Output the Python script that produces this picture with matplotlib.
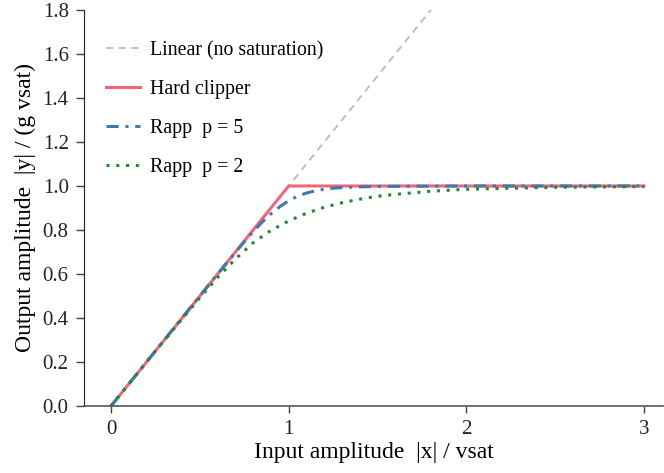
import numpy as np
import matplotlib.pyplot as plt

# values
x_lin = [0.0, 3.0]
y_lin = [0.0, 3.0]

x_hard = [0.0, 1.0, 3.0]
y_hard = [0.0, 1.0, 1.0]

x_rapp5 = [0.0, 0.25, 0.5, 0.6, 0.7, 0.75, 0.8, 0.85, 0.9, 0.95, 1.0, 1.05, 1.1, 1.15, 1.2, 1.25, 1.3, 1.4, 1.5, 1.75, 2.0, 2.5, 3.0]
y_rapp5 = [0.0, 0.25, 0.5, 0.6, 0.697, 0.746, 0.792, 0.835, 0.873, 0.906, 0.933, 0.953, 0.968, 0.978, 0.985, 0.990, 0.993, 0.996, 0.998, 0.999, 1.0, 1.0, 1.0]

x_rapp2 = [0.0, 0.25, 0.5, 0.6, 0.7, 0.8, 0.9, 1.0, 1.1, 1.2, 1.3, 1.4, 1.5, 1.6, 1.8, 2.0, 2.25, 2.5, 2.75, 3.0]
y_rapp2 = [0.0, 0.25, 0.492, 0.584, 0.668, 0.742, 0.798, 0.841, 0.876, 0.903, 0.924, 0.940, 0.953, 0.962, 0.976, 0.985, 0.990, 0.994, 0.996, 0.997]

plt.rcParams['font.family'] = ['Liberation Serif', 'DejaVu Serif']
plt.rcParams['font.size'] = 14

fig = plt.figure(figsize=(6.64, 4.73), dpi=100)
ax = fig.add_axes([0.1265, 0.1416, 0.872, 0.8374])

ax.plot(x_lin, y_lin, color='#bbbbbb', lw=1.3, ls=(0, (4, 3)), label='Linear (no saturation)')
ax.plot(x_hard, y_hard, color='#ee6677', lw=2.2, label='Hard clipper')
ax.plot(x_rapp5, y_rapp5, color='#4477aa', lw=2.2, ls=(0, (4, 2.2, 1, 2.2)), label='Rapp  p = 5')
ax.plot(x_rapp2, y_rapp2, color='#228833', lw=2.2, ls=(0, (1, 2.2)), label='Rapp  p = 2')

ax.set_xlim(-0.152, 3.107)
ax.set_ylim(0, 1.8)
ax.set_xticks([0, 1, 2, 3])
ax.set_yticks(np.arange(0, 1.81, 0.2))
ax.set_yticklabels(['%.1f' % v for v in np.arange(0, 1.81, 0.2)])

for s in ['top', 'right']:
    ax.spines[s].set_visible(False)
ax.spines['bottom'].set_color('#555555')
ax.spines['bottom'].set_linewidth(1.2)
ax.spines['left'].set_color('#222222')
ax.tick_params(axis='both', colors='#444444', labelcolor='#222222', width=1, labelsize=15)
ax.tick_params(axis='y', length=6, pad=5)
ax.tick_params(axis='x', length=5, pad=5)

ax.set_xlabel('Input amplitude  |x| / vsat', fontsize=17, labelpad=2)
ax.set_ylabel('Output amplitude  |y| / (g vsat)', fontsize=17, labelpad=5)

ax.legend(loc='upper left', frameon=False, fontsize=14.3, handlelength=1.7, handletextpad=0.5,
          labelspacing=1.0, borderaxespad=0.0, bbox_to_anchor=(0.025, 0.942))

fig.savefig('out.png', dpi=100)
